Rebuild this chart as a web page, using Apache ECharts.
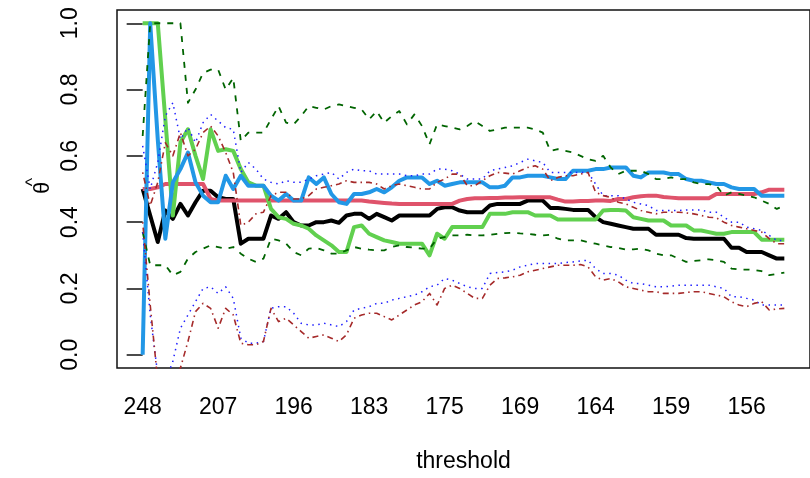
<!DOCTYPE html>
<html>
<head>
<meta charset="utf-8">
<script src="https://cdn.jsdelivr.net/npm/echarts@6/dist/echarts.min.js"></script>
<style>
  html, body { margin: 0; padding: 0; background: #ffffff; }
  #chart { width: 810px; height: 478px; }
</style>
</head>
<body>
<div id="chart"></div>
<script>
// Threshold labels shown under every tenth estimate
const thresholdLabels = [248, 207, 196, 183, 175, 169, 164, 159, 156];
const labelStep = 10;
const yTicks = [0, 0.2, 0.4, 0.6, 0.8, 1.0];

// Point estimates of theta, one per threshold (decreasing threshold)
const thetaBlack = [
  0.50, 0.42, 0.34, 0.435, 0.41, 0.455, 0.42, 0.46, 0.495, 0.495,
  0.475, 0.47, 0.47, 0.335, 0.35, 0.35, 0.35, 0.42, 0.41, 0.43,
  0.40, 0.39, 0.39, 0.40, 0.40, 0.405, 0.398, 0.42, 0.425, 0.425,
  0.41, 0.425, 0.415, 0.405, 0.42, 0.42, 0.42, 0.42, 0.42, 0.44,
  0.445, 0.445, 0.435, 0.43, 0.43, 0.43, 0.45, 0.455, 0.455, 0.455,
  0.455, 0.465, 0.465, 0.465, 0.443, 0.443, 0.44, 0.437, 0.437, 0.437,
  0.415, 0.40, 0.395, 0.39, 0.385, 0.38, 0.38, 0.38, 0.362, 0.362,
  0.362, 0.362, 0.352, 0.35, 0.35, 0.35, 0.35, 0.35, 0.323, 0.323,
  0.31, 0.31, 0.31, 0.30, 0.29, 0.29
];
const thetaRed = [
  0.50, 0.50, 0.505, 0.515, 0.515, 0.515, 0.515, 0.515, 0.515, 0.47,
  0.465, 0.465, 0.465, 0.465, 0.465, 0.465, 0.465, 0.465, 0.465, 0.465,
  0.465, 0.465, 0.465, 0.465, 0.465, 0.465, 0.465, 0.465, 0.465, 0.465,
  0.462, 0.46, 0.458, 0.456, 0.455, 0.455, 0.455, 0.455, 0.455, 0.455,
  0.455, 0.455, 0.465, 0.47, 0.472, 0.472, 0.473, 0.473, 0.474, 0.474,
  0.475, 0.475, 0.475, 0.475, 0.475, 0.468, 0.462, 0.462, 0.464, 0.464,
  0.465, 0.465, 0.464, 0.47, 0.47, 0.475, 0.478, 0.48, 0.48, 0.476,
  0.474, 0.472, 0.472, 0.472, 0.472, 0.472, 0.485, 0.485, 0.485, 0.485,
  0.485, 0.485, 0.49, 0.498, 0.498, 0.498
];
const thetaGreen = [
  1.0, 1.0, 1.0, 0.71, 0.42, 0.64, 0.68, 0.60, 0.53, 0.68,
  0.615, 0.62, 0.615, 0.56, 0.52, 0.51, 0.51, 0.44, 0.415, 0.41,
  0.395, 0.39, 0.38, 0.36, 0.345, 0.33, 0.31, 0.31, 0.385, 0.39,
  0.365, 0.355, 0.345, 0.34, 0.335, 0.335, 0.335, 0.335, 0.30, 0.365,
  0.35, 0.385, 0.385, 0.385, 0.385, 0.385, 0.425, 0.425, 0.425, 0.43,
  0.43, 0.43, 0.42, 0.42, 0.42, 0.408, 0.408, 0.408, 0.408, 0.408,
  0.408, 0.435, 0.437, 0.437, 0.435, 0.415, 0.41, 0.405, 0.405, 0.405,
  0.39, 0.39, 0.39, 0.375, 0.375, 0.37, 0.365, 0.365, 0.37, 0.37,
  0.37, 0.37, 0.347, 0.347, 0.347, 0.347
];
const thetaBlue = [
  0.0, 1.0, 0.65, 0.35, 0.52, 0.56, 0.61, 0.52, 0.48, 0.46,
  0.46, 0.54, 0.50, 0.54, 0.51, 0.51, 0.51, 0.48, 0.465, 0.485,
  0.465, 0.465, 0.535, 0.515, 0.535, 0.485, 0.46, 0.455, 0.485, 0.485,
  0.49, 0.50, 0.49, 0.505, 0.525, 0.535, 0.535, 0.535, 0.515, 0.525,
  0.51, 0.515, 0.52, 0.52, 0.52, 0.52, 0.505, 0.505, 0.51, 0.535,
  0.535, 0.54, 0.54, 0.54, 0.535, 0.53, 0.53, 0.555, 0.555, 0.555,
  0.56, 0.56, 0.565, 0.565, 0.565, 0.54, 0.535, 0.55, 0.55, 0.55,
  0.545, 0.545, 0.53, 0.525, 0.525, 0.52, 0.515, 0.515, 0.505, 0.50,
  0.50, 0.50, 0.48, 0.48, 0.48, 0.48
];

// Confidence bounds
const greenUpper = [
  0.66, 1.0, 1.0, 1.0, 1.0, 1.0, 0.76, 0.80, 0.85, 0.86,
  0.86, 0.80, 0.835, 0.645, 0.67, 0.67, 0.67, 0.71, 0.75, 0.70,
  0.695, 0.72, 0.75, 0.745, 0.74, 0.75, 0.755, 0.75, 0.745, 0.74,
  0.71, 0.735, 0.70, 0.72, 0.735, 0.695, 0.725, 0.69, 0.635, 0.695,
  0.69, 0.685, 0.68, 0.69, 0.705, 0.69, 0.675, 0.68, 0.685, 0.685,
  0.685, 0.685, 0.68, 0.67, 0.615, 0.62, 0.615, 0.61, 0.60, 0.59,
  0.585, 0.60, 0.565, 0.545, 0.555, 0.555, 0.555, 0.545, 0.53, 0.53,
  0.535, 0.53, 0.53, 0.52, 0.515, 0.515, 0.51, 0.48, 0.49, 0.485,
  0.48, 0.475, 0.465, 0.455, 0.44, 0.45
];
const greenLower = [
  0.37, 0.27, 0.27, 0.27, 0.24, 0.25, 0.29, 0.31, 0.32, 0.33,
  0.325, 0.32, 0.325, 0.305, 0.29, 0.28, 0.29, 0.35, 0.345, 0.335,
  0.31, 0.30, 0.32, 0.322, 0.315, 0.305, 0.305, 0.315, 0.325, 0.32,
  0.317, 0.315, 0.315, 0.325, 0.33, 0.325, 0.323, 0.32, 0.32, 0.35,
  0.355, 0.36, 0.36, 0.362, 0.36, 0.36, 0.362, 0.365, 0.367, 0.368,
  0.366, 0.365, 0.362, 0.36, 0.362, 0.35, 0.345, 0.345, 0.345, 0.34,
  0.335, 0.33, 0.325, 0.322, 0.317, 0.318, 0.32, 0.315, 0.305, 0.30,
  0.30, 0.29, 0.28, 0.283, 0.285, 0.288, 0.285, 0.28, 0.26, 0.257,
  0.257, 0.256, 0.252, 0.24, 0.244, 0.248
];
const blueUpper = [
  0.63, 0.50, 0.58, 0.72, 0.76, 0.65, 0.685, 0.64, 0.70, 0.725,
  0.705, 0.685, 0.68, 0.55, 0.58, 0.56, 0.53, 0.52, 0.515, 0.525,
  0.52, 0.52, 0.53, 0.54, 0.545, 0.55, 0.53, 0.55, 0.56, 0.555,
  0.555, 0.545, 0.545, 0.545, 0.545, 0.54, 0.54, 0.545, 0.545, 0.56,
  0.56, 0.555, 0.545, 0.53, 0.53, 0.53, 0.555, 0.56, 0.565, 0.57,
  0.58, 0.59, 0.585, 0.58, 0.55, 0.55, 0.55, 0.55, 0.55, 0.55,
  0.515, 0.48, 0.48, 0.48, 0.47, 0.46, 0.455, 0.45, 0.435, 0.435,
  0.435, 0.435, 0.437, 0.437, 0.437, 0.43, 0.43, 0.415, 0.40, 0.40,
  0.385, 0.38, 0.375, 0.36, 0.345, 0.345
];
const blueLower = [
  0.37, 0.12, -0.06, -0.08, -0.02, 0.08, 0.12, 0.16, 0.20, 0.205,
  0.185, 0.205, 0.17, 0.05, 0.035, 0.035, 0.04, 0.14, 0.145, 0.145,
  0.125, 0.095, 0.09, 0.09, 0.095, 0.09, 0.085, 0.10, 0.135, 0.14,
  0.145, 0.155, 0.155, 0.165, 0.17, 0.175, 0.18, 0.19, 0.205, 0.21,
  0.23, 0.225, 0.215, 0.205, 0.20, 0.20, 0.245, 0.248, 0.25, 0.255,
  0.265, 0.27, 0.275, 0.275, 0.275, 0.275, 0.278, 0.28, 0.283, 0.285,
  0.26, 0.245, 0.245, 0.24, 0.225, 0.215, 0.215, 0.21, 0.205, 0.205,
  0.207, 0.21, 0.21, 0.21, 0.21, 0.21, 0.205, 0.20, 0.175, 0.175,
  0.17, 0.165, 0.15, 0.15, 0.15, 0.15
];
const redUpper = [
  0.55, 0.45, 0.52, 0.64, 0.60, 0.67, 0.60, 0.62, 0.67, 0.69,
  0.66, 0.61, 0.55, 0.39, 0.40, 0.425, 0.43, 0.48, 0.49, 0.49,
  0.47, 0.47, 0.48, 0.50, 0.505, 0.51, 0.515, 0.525, 0.52, 0.52,
  0.52, 0.515, 0.50, 0.51, 0.515, 0.51, 0.505, 0.50, 0.50, 0.52,
  0.53, 0.545, 0.545, 0.51, 0.51, 0.525, 0.54, 0.55, 0.548, 0.545,
  0.555, 0.565, 0.57, 0.56, 0.525, 0.535, 0.54, 0.54, 0.545, 0.55,
  0.49, 0.48, 0.475, 0.46, 0.455, 0.445, 0.435, 0.43, 0.425, 0.43,
  0.43, 0.43, 0.428, 0.425, 0.42, 0.415, 0.413, 0.40, 0.39, 0.385,
  0.38, 0.375, 0.37, 0.35, 0.335, 0.335
];
const redLower = [
  0.40, 0.15, -0.08, -0.10, -0.08, -0.04, 0.04, 0.13, 0.155, 0.14,
  0.08, 0.14, 0.12, 0.035, 0.03, 0.03, 0.04, 0.14, 0.10, 0.11,
  0.09, 0.07, 0.05, 0.055, 0.06, 0.05, 0.04, 0.06, 0.11, 0.12,
  0.125, 0.125, 0.115, 0.105, 0.12, 0.135, 0.15, 0.16, 0.185, 0.15,
  0.20, 0.21, 0.20, 0.185, 0.17, 0.17, 0.21, 0.23, 0.232, 0.235,
  0.24, 0.25, 0.255, 0.26, 0.265, 0.27, 0.27, 0.27, 0.272, 0.265,
  0.235, 0.225, 0.23, 0.22, 0.205, 0.20, 0.195, 0.19, 0.19, 0.185,
  0.185, 0.185, 0.188, 0.19, 0.19, 0.185, 0.18, 0.175, 0.16, 0.15,
  0.145, 0.155, 0.16, 0.135, 0.138, 0.14
];

const FONT = '"Liberation Sans", Arial, Helvetica, sans-serif';
const pairs = vals => vals.map((v, i) => [i, v]);

function lineSeries(name, vals, color, width, type) {
  return {
    name: name,
    type: 'line',
    data: pairs(vals),
    showSymbol: false,
    symbol: 'none',
    clip: true,
    silent: true,
    lineStyle: { color: color, width: width, type: type || 'solid', cap: 'butt', join: 'round' }
  };
}

const chart = echarts.init(document.getElementById('chart'), null, { renderer: 'canvas' });

chart.setOption({
  animation: false,
  backgroundColor: '#ffffff',
  grid: {
    left: 117, top: 10, width: 704, height: 360,
    show: true, borderColor: '#111', borderWidth: 1.5, backgroundColor: 'transparent'
  },
  xAxis: {
    type: 'value',
    min: -3.4, max: 88.4,
    axisLine: { show: false },
    axisTick: { show: false },
    splitLine: { show: false },
    axisLabel: {
      customValues: thresholdLabels.map((_, k) => k * labelStep),
      formatter: v => String(thresholdLabels[Math.round(v / labelStep)]),
      color: '#000', fontSize: 23, fontFamily: FONT, margin: 28
    },
    name: 'threshold',
    nameLocation: 'middle',
    nameGap: 82,
    nameTextStyle: { color: '#000', fontSize: 23, fontFamily: FONT }
  },
  yAxis: {
    type: 'value',
    min: -0.04, max: 1.04,
    axisLine: { show: false },
    splitLine: { show: false },
    axisTick: { show: true, customValues: yTicks, length: 16, lineStyle: { color: '#111', width: 1.5 } },
    axisLabel: {
      customValues: yTicks,
      rotate: 90,
      formatter: v => v.toFixed(1),
      color: '#000', fontSize: 23, fontFamily: FONT, margin: 35
    }
  },
  graphic: [
    { type: 'text', x: 43, y: 188, rotation: Math.PI / 2,
      style: { text: 'θ', fontSize: 22, fontFamily: FONT, fill: '#000', align: 'center', verticalAlign: 'middle' } },
    { type: 'text', x: 33, y: 182, rotation: Math.PI / 2,
      style: { text: '^', fontSize: 18, fontFamily: FONT, fill: '#000', align: 'center', verticalAlign: 'middle' } }
  ],
  series: [
    lineSeries('black', thetaBlack, '#000000', 4),
    lineSeries('red', thetaRed, '#DF536B', 4),
    lineSeries('green', thetaGreen, '#61D04F', 4),
    lineSeries('blue', thetaBlue, '#2297E6', 4),
    lineSeries('green upper', greenUpper, '#006400', 1.8, [6, 7]),
    lineSeries('green lower', greenLower, '#006400', 1.8, [6, 7]),
    lineSeries('blue upper', blueUpper, '#1f1fff', 1.5, [1.5, 4.5]),
    lineSeries('blue lower', blueLower, '#1f1fff', 1.5, [1.5, 4.5]),
    lineSeries('red upper', redUpper, '#A52A2A', 1.6, [1.5, 4, 6, 4]),
    lineSeries('red lower', redLower, '#A52A2A', 1.6, [1.5, 4, 6, 4])
  ]
});
</script>
</body>
</html>
